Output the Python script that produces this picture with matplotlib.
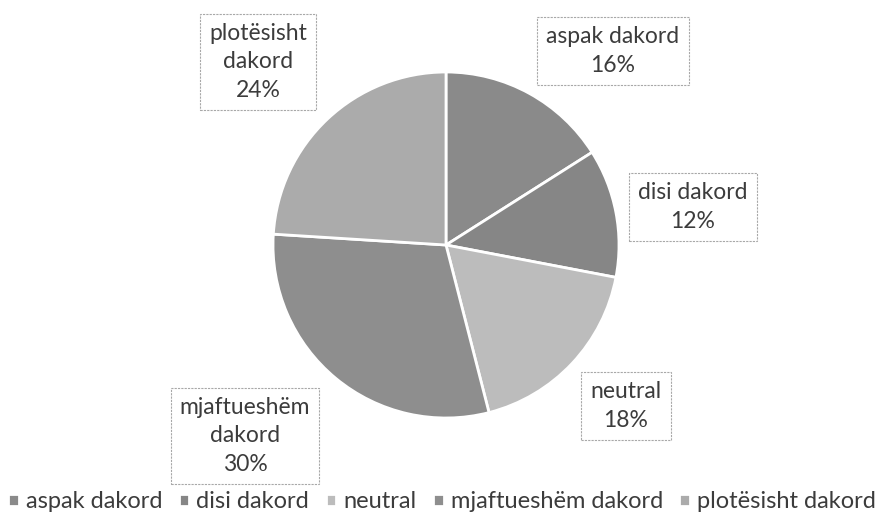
import matplotlib
matplotlib.use("Agg")
import matplotlib.pyplot as plt
import numpy as np

# Survey answers, share of respondents (%)
categories = ["aspak dakord", "disi dakord", "neutral", "mjaftueshëm dakord", "plotësisht dakord"]
values = [16, 12, 18, 30, 24]
colors = ["#8a8a8a", "#868686", "#bcbcbc", "#8e8e8e", "#ababab"]

# label text inside each box (line breaks as in the original)
box_labels = ["aspak dakord", "disi dakord", "neutral", "mjaftueshëm\ndakord", "plotësisht\ndakord"]
# label box centres, in pie radius units
label_pos = [(0.965, 1.12), (1.428, 0.22), (1.04, -0.93), (-1.162, -1.104), (-1.087, 1.058)]

plt.rcParams['font.family'] = ['Lato', 'DejaVu Sans']

dpi = 100
fig = plt.figure(figsize=(884 / dpi, 518 / dpi), dpi=dpi)

# pie centre ~ (446, 245) px, radius ~173 px
cx, cy, r = 446 / 884, (518 - 245) / 518, 173
ax = fig.add_axes([cx - r / 884, cy - r / 518, 2 * r / 884, 2 * r / 518])

wedges, _ = ax.pie(values, colors=colors, startangle=90, counterclock=False,
                   radius=1, wedgeprops=dict(edgecolor="white", linewidth=2))
ax.set_xlim(-1, 1)
ax.set_ylim(-1, 1)
ax.set_aspect("auto")
ax.axis("off")

for lab, val, (x, y) in zip(box_labels, values, label_pos):
    ax.text(x, y, f"{lab}\n{val}%", ha="center", va="center", fontsize=16.5,
            color="#3c3c3c", linespacing=1.45, clip_on=False,
            bbox=dict(boxstyle="square,pad=0.4", facecolor="white",
                      edgecolor="#a8a8a8", linewidth=0.8, linestyle=(0, (2, 1))))

fig.legend(wedges, categories, loc="center", bbox_to_anchor=(0.5, 1 - 502 / 518),
           ncol=5, frameon=False, fontsize=17, handlelength=0.45, handleheight=0.45,
           handletextpad=0.3, columnspacing=0.7, labelcolor="#3c3c3c")

fig.savefig("out.png", dpi=dpi)
